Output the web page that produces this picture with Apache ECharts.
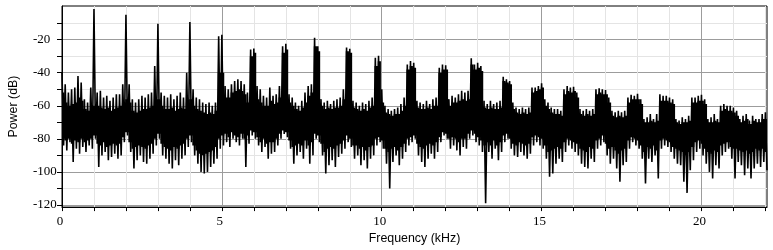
<!DOCTYPE html>
<html><head><meta charset="utf-8">
<script src="https://cdn.jsdelivr.net/npm/echarts@6/dist/echarts.min.js"></script>
<style>html,body{margin:0;padding:0;background:#fff}#c{width:773px;height:250px}</style>
</head><body><div id="c"></div>
<script>
// Spectrum, per 0.1 kHz bin (dB):
// upperDb / lowerDb = highest / lowest excursion, coreTopDb / coreBottomDb = edges of the solid band
const binStartKHz = 0;
const binWidthKHz = 0.1;
const upperDb = [
 -40,-47,-52,-50,-49,-42,-46,-56,-58,-49,
 -1.5,-52,-51,-55,-54,-57,-55,-53,-53,-47,
 -5,-47,-56,-58,-56,-54,-55,-53,-52,-36,
 -10.4,-52,-54,-55,-53,-56,-54,-52,-55,-40,
 -9.3,-50,-55,-56,-58,-59,-58,-60,-58,-18,
 -17,-48,-50,-47,-45,-44,-45,-47,-52,-26,
 -25.3,-48,-50,-54,-55,-49,-54,-53,-48,-24,
 -22.5,-53,-55,-58,-60,-57,-52,-48,-47,-18.8,
 -24,-56,-58,-57,-59,-57,-56,-55,-50,-24.7,
 -25.5,-57,-58,-60,-58,-59,-57,-55,-31,-29.7,
 -50,-60,-62,-63,-62,-61,-59,-55,-35,-33,
 -34,-57,-58,-59,-57,-59,-56,-55,-37,-35,
 -35.5,-56,-54,-55,-53,-51,-52,-51,-31.2,-35,
 -34,-36,-57,-59,-57,-59,-58,-57,-42.5,-44,
 -45,-58,-61,-62,-61,-62,-61,-49,-49,-48,
 -46.4,-56,-58,-61,-62,-62,-63,-50,-48,-49,
 -48.5,-52,-62,-63,-62,-63,-62,-50,-49.4,-50,
 -50.5,-55,-63,-64,-63,-64,-63,-55,-53.4,-54,
 -52.8,-56,-68,-67,-65,-68,-65,-53,-54,-54,
 -55,-56,-68,-69,-67,-68,-66,-55,-55,-54,
 -53.4,-56,-68,-67,-65,-68,-60,-59,-60,-60,
 -61,-63,-68,-66,-65,-69,-66,-68,-68,-65,
 -64
];
const lowerDb = [
 -84,-87,-82,-94,-86,-89,-85,-88,-84,-86,
 -80,-97,-90,-88,-93,-91,-89,-92,-90,-82,
 -78,-88,-98,-93,-90,-94,-95,-92,-89,-84,
 -80,-90,-92,-95,-98,-93,-96,-92,-90,-85,
 -82,-90,-95,-100,-101,-100,-97,-95,-92,-86,
 -84,-82,-85,-80,-82,-84,-80,-97,-83,-78,
 -80,-84,-88,-85,-92,-89,-88,-84,-80,-77,
 -79,-86,-95,-90,-88,-92,-86,-95,-90,-80,
 -82,-90,-101,-96,-93,-97,-91,-89,-86,-82,
 -85,-92,-90,-96,-93,-98,-92,-90,-84,-82,
 -86,-95,-110,-94,-90,-96,-92,-88,-84,-82,
 -80,-90,-94,-97,-92,-89,-92,-88,-82,-78,
 -80,-86,-84,-87,-90,-85,-86,-80,-78,-82,
 -84,-88,-119,-88,-92,-86,-93,-88,-82,-80,
 -86,-90,-91,-88,-90,-92,-89,-84,-82,-84,
 -86,-92,-103,-101,-95,-92,-94,-88,-84,-86,
 -88,-90,-95,-97,-98,-92,-94,-86,-84,-82,
 -90,-95,-92,-98,-106,-96,-94,-86,-82,-84,
 -86,-92,-107,-92,-94,-90,-104,-86,-84,-85,
 -88,-92,-95,-96,-106,-112.7,-99,-93,-88,-86,
 -90,-95,-100,-104,-96,-98,-90,-88,-86,-92,
 -104,-94,-96,-102,-98,-104,-98,-95,-97,-94,
 -99
];
const coreTopDb = [
 -52,-58,-60,-59,-58,-55,-57,-62,-63,-60,
 -60,-60,-61,-62,-61,-63,-62,-61,-60,-58,
 -56,-58,-63,-64,-63,-62,-62,-61,-60,-56,
 -56,-60,-62,-62,-61,-63,-62,-61,-62,-58,
 -56,-60,-62,-63,-64,-65,-64,-65,-63,-40,
 -40,-55,-55,-52,-51,-50,-51,-53,-58,-30,
 -28,-56,-58,-60,-60,-57,-59,-58,-55,-28,
 -26,-58,-60,-62,-63,-61,-58,-54,-52,-24,
 -27,-60,-62,-61,-62,-61,-61,-60,-56,-27,
 -28,-61,-62,-63,-62,-63,-61,-60,-36,-33,
 -58,-64,-65,-66,-65,-65,-63,-60,-38,-36,
 -37,-61,-62,-62,-61,-62,-60,-60,-40,-38,
 -38,-60,-58,-58,-57,-56,-57,-56,-35,-38,
 -37,-39,-61,-62,-61,-62,-62,-61,-45,-46,
 -47,-62,-64,-65,-64,-65,-64,-52,-51,-50,
 -49,-60,-62,-64,-65,-65,-66,-53,-51,-52,
 -51,-55,-65,-66,-65,-66,-65,-53,-52,-53,
 -53,-58,-66,-67,-66,-67,-66,-58,-56,-56,
 -56,-59,-70,-70,-69,-70,-69,-57,-57,-57,
 -58,-59,-70,-71,-70,-70,-69,-58,-58,-57,
 -57,-59,-70,-70,-69,-70,-63,-62,-63,-63,
 -64,-66,-70,-69,-68,-71,-69,-70,-70,-68,
 -68
];
const coreBottomDb = [
 -80,-81,-80,-83,-81,-82,-80,-82,-81,-80,
 -78,-83,-84,-82,-85,-84,-83,-84,-83,-79,
 -76,-82,-86,-85,-84,-85,-86,-84,-83,-80,
 -77,-83,-85,-86,-87,-85,-86,-84,-83,-80,
 -78,-84,-87,-89,-90,-89,-88,-87,-85,-80,
 -78,-77,-79,-76,-78,-79,-77,-80,-78,-75,
 -76,-79,-82,-80,-83,-82,-82,-80,-77,-75,
 -76,-81,-85,-84,-83,-84,-81,-84,-82,-77,
 -78,-83,-88,-86,-85,-86,-84,-83,-81,-78,
 -80,-84,-84,-86,-85,-87,-85,-84,-80,-79,
 -81,-86,-88,-86,-85,-87,-85,-83,-80,-79,
 -78,-83,-85,-86,-84,-83,-84,-82,-79,-76,
 -77,-80,-79,-80,-82,-80,-80,-77,-75,-77,
 -79,-81,-84,-82,-84,-81,-84,-82,-78,-77,
 -80,-83,-84,-82,-83,-84,-83,-79,-78,-79,
 -80,-84,-88,-87,-86,-85,-86,-82,-80,-81,
 -82,-83,-86,-87,-88,-85,-86,-81,-80,-78,
 -83,-86,-85,-87,-89,-87,-86,-81,-79,-80,
 -81,-84,-88,-85,-86,-84,-87,-81,-80,-81,
 -82,-85,-86,-87,-88,-90,-88,-85,-82,-81,
 -83,-86,-88,-89,-87,-88,-84,-83,-82,-85,
 -86,-86,-87,-88,-87,-89,-88,-86,-87,-86,
 -88
];
const xTickLabels = [0, 5, 10, 15, 20];
const xGridValues = [0,1,2,3,4,5,6,7,8,9,10,11,12,13,14,15,16,17,18,19,20,21,22];
const yTickLabels = [-120, -100, -80, -60, -40, -20];
const yGridValues = [-120,-110,-100,-90,-80,-70,-60,-50,-40,-30,-20,-10];
const xRange = [0, 22.05];
const yRange = [-121.3, 0.35];

const binFreq = upperDb.map((_, i) => binStartKHz + i * binWidthKHz);
const pts = [];
binFreq.forEach((f, i) => {
  pts.push([f, upperDb[i]]);
  pts.push([f + binWidthKHz / 2, lowerDb[i]]);
});

const MAJOR = '#9c9c9c', MINOR = '#e4e4e4';
const chart = echarts.init(document.getElementById('c'), null, {renderer: 'canvas'});
chart.setOption({
  animation: false,
  grid: {left: 62, right: 6, top: 6, bottom: 39, show: true, borderColor: '#000', borderWidth: 1, backgroundColor: 'rgba(0,0,0,0)'},
  xAxis: {
    type: 'value', min: xRange[0], max: xRange[1],
    name: 'Frequency (kHz)', nameLocation: 'middle', nameGap: 21,
    nameTextStyle: {fontFamily: 'Liberation Sans', fontSize: 12.4, color: '#000'},
    axisLine: {show: true, onZero: false, lineStyle: {color: '#000', width: 1}},
    axisTick: {show: true, length: 4, customValues: xGridValues, lineStyle: {color: '#000', width: 1}},
    axisLabel: {customValues: xTickLabels, fontFamily: 'Liberation Serif', fontSize: 13, color: '#000', margin: 8, padding: [0, 4, 0, 0]},
    splitLine: {show: true, lineStyle: {color: [MAJOR, MINOR, MINOR, MINOR, MINOR], width: 1}}
  },
  yAxis: {
    type: 'value', min: yRange[0], max: yRange[1],
    name: 'Power (dB)', nameLocation: 'middle', nameGap: 42,
    nameTextStyle: {fontFamily: 'Liberation Sans', fontSize: 12.4, color: '#000'},
    axisLine: {show: true, onZero: false, lineStyle: {color: '#000', width: 1}},
    axisTick: {show: true, length: 5, customValues: yGridValues, lineStyle: {color: '#000', width: 1}},
    axisLabel: {customValues: yTickLabels, fontFamily: 'Liberation Serif', fontSize: 13, color: '#000', margin: 29, align: 'left',
      formatter: v => (v < 0 ? '-' + Math.abs(v) : String(v))},
    splitLine: {show: true, lineStyle: {color: [MAJOR, MINOR], width: 1}}
  },
  series: [{
    type: 'custom', silent: true, z: 4, clip: true,
    data: [0],
    renderItem: (params, api) => {
      const half = binWidthKHz / 2, q = binWidthKHz / 4;
      const points = [];
      binFreq.forEach((f, i) => {
        points.push(api.coord([f - q, coreTopDb[i]]));
        points.push(api.coord([f + half + q, coreTopDb[i]]));
      });
      for (let i = binFreq.length - 1; i >= 0; i--) {
        points.push(api.coord([binFreq[i] + half + q, coreBottomDb[i]]));
        points.push(api.coord([binFreq[i] - q, coreBottomDb[i]]));
      }
      return {type: 'polygon', shape: {points}, style: {fill: '#000'}};
    }
  }, {
    type: 'line', data: pts, symbol: 'none', showSymbol: false, silent: true, z: 5,
    lineStyle: {color: '#000', width: 1.6, join: 'bevel'}
  }]
});
</script></body></html>
